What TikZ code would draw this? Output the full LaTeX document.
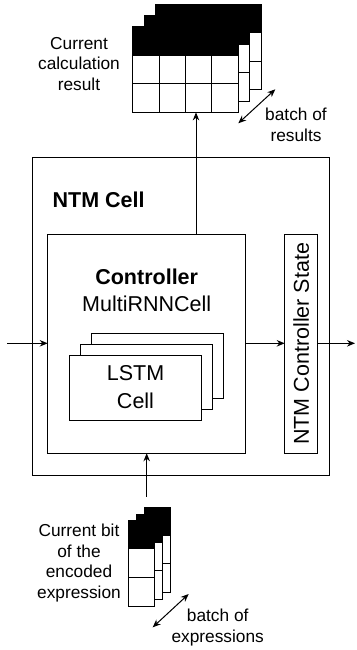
\documentclass[tikz,border=0pt]{standalone}
\usepackage{fontspec}
\setmainfont{Liberation Sans}
\usetikzlibrary{arrows.meta,positioning,calc}

\begin{document}
\begin{tikzpicture}[x=1pt,y=-1pt,line width=1pt,
  every node/.style={align=center,inner sep=0pt,outer sep=0pt},
  box/.style={draw,fill=white,anchor=north west},
  bigtext/.style={font=\fontsize{21.5}{28}\selectfont},
  sidetext/.style={font=\fontsize{17.3}{20.8}\selectfont},
  arr/.style={-{Stealth[length=8pt,width=6.5pt]}},
  twoarr/.style={{Stealth[length=8pt,width=6.5pt]}-{Stealth[length=8pt,width=6.5pt]}}]
  \useasboundingbox (0,0) rectangle (356,650);

  \foreach \s in {2,1,0}{
    \node[box,minimum width=105.7pt,minimum height=85.7pt] (res\s) at ({132.7+11.3*\s},{26.7-11.3*\s}) {};
    \fill (res\s.north west) rectangle ([yshift=-29.3pt]res\s.north east);
    \draw ([yshift=-57.3pt]res\s.north west) -- ([yshift=-57.3pt]res\s.north east);
    \foreach \c in {1,2,3}
      \draw ([xshift={\c*26.4pt},yshift=-29.3pt]res\s.north west) -- ([xshift={\c*26.4pt}]res\s.south west);
  }
  \foreach \s in {2,1,0}{
    \node[box,minimum width=26pt,minimum height=85.3pt] (bit\s) at ({128.3+8*\s},{520.7-6.7*\s}) {};
    \fill (bit\s.north west) rectangle ([yshift=-28.6pt]bit\s.north east);
    \draw ([yshift=-56.6pt]bit\s.north west) -- ([yshift=-56.6pt]bit\s.north east);
  }

  \node[box,minimum width=296.7pt,minimum height=317.7pt] (ntm) at (32.3,157.3) {};
  \node[bigtext,anchor=west] (ntmlabel) at (52.7,200) {\bfseries NTM Cell};
  \node[box,minimum width=198pt,minimum height=219pt] (ctrl) at (47.7,234.3) {};
  \node[bigtext] (ctrltitle) at (146.7,276.7) {\bfseries Controller};
  \node[bigtext] (ctrltype) at (146.7,304) {MultiRNNCell};
  \foreach \s in {2,1}
    \node[box,minimum width=132.4pt,minimum height=65pt] (lstm\s) at ({69.3+11*\s},{355-11*\s}) {};
  \node[box,bigtext,minimum width=132.4pt,minimum height=65pt] (lstm0) at (69.3,355) {LSTM\\Cell};
  \node[box,minimum width=33pt,minimum height=219pt,
    label={[bigtext,rotate=90]center:NTM Controller State}] (state) at (284.7,234.3) {};

  \coordinate (in) at (7.3,343.3);
  \coordinate (out) at (355,343.3);
  \coordinate (up) at (196,0);
  \coordinate (bitin) at (146.7,496.7);
  \draw[arr] (in) -- (in -| ctrl.west);
  \draw[arr] (ctrl.east |- in) -- (state.west |- in);
  \draw[arr] (state.east |- in) -- (out);
  \draw[arr] (ctrl.north -| up) -- (res0.south -| up);
  \draw[arr] (bitin) -- (ctrl.south);

  \node[sidetext] (reslabel) at (79,64) {Current\\calculation\\result};
  \coordinate (resb1) at (238.3,123.3);
  \coordinate (resb2) at (275.3,89.3);
  \draw[twoarr] (resb1) -- (resb2);
  \node[sidetext] (resbatch) at (296,125) {batch of\\results};
  \node[sidetext] (bitlabel) at (79,563) {Current bit\\of the\\encoded\\expression};
  \coordinate (bitb1) at (152.7,627.3);
  \coordinate (bitb2) at (188.7,594);
  \draw[twoarr] (bitb1) -- (bitb2);
  \node[sidetext] (bitbatch) at (217.7,627.5) {batch of\\expressions};
\end{tikzpicture}
\end{document}
